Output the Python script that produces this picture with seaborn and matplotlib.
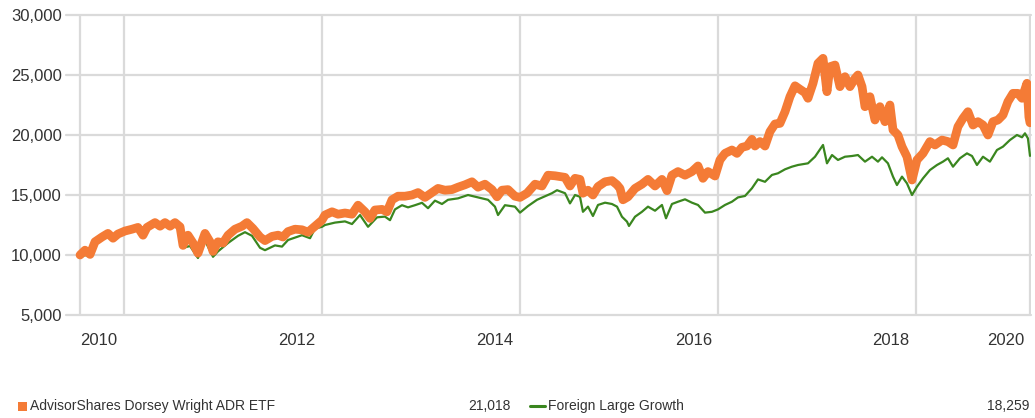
#!/usr/bin/env python3

# Growth of 10,000: AdvisorShares Dorsey Wright ADR ETF vs Foreign Large Growth
import numpy as np
import pandas as pd
import matplotlib
matplotlib.use('Agg')
import matplotlib.pyplot as plt
import matplotlib.transforms as mtransforms
from matplotlib import font_manager
from matplotlib.patches import Rectangle
from matplotlib.lines import Line2D
import seaborn as sns

# Values (x in decimal years)
adr_years = [2010.556, 2010.606, 2010.657, 2010.707, 2010.778, 2010.838, 2010.889, 2010.939,
             2011.010, 2011.081, 2011.141, 2011.192, 2011.232, 2011.313, 2011.364, 2011.414,
             2011.465, 2011.515, 2011.566, 2011.596, 2011.646, 2011.697, 2011.747, 2011.818,
             2011.869, 2011.899, 2011.949, 2012.000, 2012.051, 2012.121, 2012.192, 2012.242,
             2012.303, 2012.374, 2012.424, 2012.495, 2012.556, 2012.606, 2012.657, 2012.727,
             2012.798, 2012.859, 2012.929, 2013.000, 2013.030, 2013.101, 2013.162, 2013.232,
             2013.303, 2013.364, 2013.434, 2013.485, 2013.535, 2013.606, 2013.657, 2013.707,
             2013.768, 2013.838, 2013.909, 2013.970, 2014.040, 2014.111, 2014.172, 2014.242,
             2014.313, 2014.374, 2014.444, 2014.515, 2014.576, 2014.646, 2014.717, 2014.768,
             2014.818, 2014.879, 2014.949, 2015.000, 2015.071, 2015.152, 2015.222, 2015.283,
             2015.354, 2015.455, 2015.505, 2015.556, 2015.606, 2015.636, 2015.687, 2015.737,
             2015.788, 2015.859, 2015.929, 2015.980, 2016.010, 2016.040, 2016.091, 2016.162,
             2016.232, 2016.293, 2016.364, 2016.434, 2016.485, 2016.535, 2016.596, 2016.667,
             2016.737, 2016.798, 2016.848, 2016.899, 2016.970, 2017.020, 2017.071, 2017.141,
             2017.192, 2017.242, 2017.293, 2017.343, 2017.374, 2017.424, 2017.475, 2017.525,
             2017.576, 2017.626, 2017.677, 2017.727, 2017.778, 2017.828, 2017.879, 2017.909,
             2017.960, 2018.010, 2018.061, 2018.101, 2018.131, 2018.182, 2018.232, 2018.283,
             2018.333, 2018.384, 2018.414, 2018.455, 2018.485, 2018.535, 2018.586, 2018.636,
             2018.687, 2018.737, 2018.768, 2018.818, 2018.859, 2018.909, 2018.960, 2019.010,
             2019.071, 2019.141, 2019.192, 2019.263, 2019.323, 2019.374, 2019.424, 2019.475,
             2019.525, 2019.576, 2019.626, 2019.677, 2019.727, 2019.778, 2019.828, 2019.879,
             2019.929, 2019.980, 2020.030, 2020.071, 2020.121, 2020.141, 2020.152]
adr_values = [10000, 10400, 10050, 11100, 11500, 11800, 11400, 11750,
              12000, 12150, 12300, 11650, 12300, 12700, 12400, 12700,
              12400, 12700, 12350, 10800, 11650, 11000, 10150, 11800,
              11100, 10300, 11100, 11000, 11650, 12150, 12400, 12700,
              12200, 11500, 11200, 11550, 11650, 11500, 11950, 12150,
              12100, 11900, 12400, 12900, 13330, 13600, 13400, 13500,
              13400, 14150, 13600, 13050, 13750, 13800, 13600, 14600,
              14900, 14900, 15000, 15200, 14800, 15200, 15550, 15400,
              15450, 15650, 15850, 16100, 15650, 15900, 15450, 14850,
              15400, 15450, 14900, 14800, 15150, 15900, 15750, 16650,
              16600, 16470, 15750, 16390, 16300, 15150, 15400, 15000,
              15700, 16100, 16200, 15850, 15550, 14600, 14850, 15550,
              15900, 16300, 15750, 16300, 15360, 16650, 16950, 16650,
              16950, 17420, 16390, 16950, 16580, 17920, 18470, 18750,
              18470, 18970, 19080, 19640, 19080, 19450, 19080, 20280,
              20920, 20970, 21940, 23190, 24100, 23810, 23530, 23060,
              24310, 25970, 26390, 23610, 25690, 25830, 24030, 24860,
              24030, 24720, 25000, 24030, 22360, 23190, 21250, 22360,
              21110, 22500, 20420, 20000, 19030, 18190, 16250, 17920,
              18470, 19450, 19170, 19580, 19450, 19170, 20690, 21390,
              21940, 20830, 21110, 20830, 20000, 21110, 21250, 21670,
              22780, 23470, 23470, 23060, 24310, 21500, 21018]

flg_years = [2010.556, 2010.657, 2010.707, 2010.778, 2010.838, 2010.889, 2010.939, 2011.010,
             2011.081, 2011.141, 2011.192, 2011.232, 2011.313, 2011.364, 2011.414, 2011.465,
             2011.515, 2011.566, 2011.596, 2011.667, 2011.747, 2011.818, 2011.899, 2011.949,
             2012.051, 2012.152, 2012.222, 2012.293, 2012.374, 2012.424, 2012.525, 2012.596,
             2012.657, 2012.798, 2012.879, 2012.929, 2013.000, 2013.030, 2013.131, 2013.232,
             2013.303, 2013.384, 2013.465, 2013.556, 2013.636, 2013.687, 2013.737, 2013.808,
             2013.869, 2013.939, 2014.010, 2014.071, 2014.141, 2014.212, 2014.273, 2014.374,
             2014.475, 2014.576, 2014.677, 2014.747, 2014.778, 2014.848, 2014.949, 2015.000,
             2015.081, 2015.172, 2015.253, 2015.323, 2015.374, 2015.455, 2015.505, 2015.556,
             2015.606, 2015.636, 2015.687, 2015.737, 2015.788, 2015.859, 2015.929, 2015.980,
             2016.030, 2016.081, 2016.101, 2016.162, 2016.232, 2016.293, 2016.364, 2016.434,
             2016.475, 2016.535, 2016.596, 2016.667, 2016.737, 2016.798, 2016.869, 2016.939,
             2017.000, 2017.071, 2017.141, 2017.202, 2017.273, 2017.343, 2017.404, 2017.475,
             2017.545, 2017.606, 2017.677, 2017.747, 2017.808, 2017.909, 2017.980, 2018.061,
             2018.101, 2018.152, 2018.212, 2018.283, 2018.354, 2018.414, 2018.485, 2018.556,
             2018.616, 2018.657, 2018.717, 2018.768, 2018.808, 2018.859, 2018.909, 2018.960,
             2019.010, 2019.071, 2019.141, 2019.212, 2019.273, 2019.323, 2019.374, 2019.444,
             2019.515, 2019.566, 2019.616, 2019.677, 2019.747, 2019.818, 2019.879, 2019.949,
             2020.020, 2020.071, 2020.101, 2020.131, 2020.152]
flg_values = [9950, 10000, 11000, 11400, 11700, 11300, 11650, 11900,
              12050, 12200, 11550, 12200, 12600, 12300, 12600, 12300,
              12550, 12200, 10600, 10750, 9750, 11200, 9850, 10300,
              11000, 11600, 11900, 11600, 10600, 10400, 10800, 10700,
              11250, 11650, 11400, 12200, 12350, 12500, 12700, 12800,
              12580, 13330, 12350, 13140, 13200, 12900, 13800, 14150,
              13970, 14150, 14350, 13900, 14530, 14250, 14600, 14720,
              15000, 14800, 14600, 14030, 13330, 14150, 14030, 13530,
              14080, 14600, 14900, 15150, 15400, 15150, 14300, 15000,
              14850, 13600, 14030, 13250, 14170, 14360, 14250, 14030,
              13190, 12780, 12420, 13190, 13600, 14030, 13690, 14170,
              13060, 14250, 14440, 14640, 14360, 14170, 13530, 13600,
              13800, 14170, 14440, 14800, 14920, 15560, 16300, 16100,
              16670, 16810, 17140, 17360, 17500, 17640, 18190, 19170,
              17640, 18330, 17920, 18190, 18250, 18330, 17780, 18190,
              17780, 18140, 17640, 16530, 15830, 16530, 15970, 15000,
              15690, 16390, 17080, 17500, 17780, 18060, 17360, 18060,
              18470, 18250, 17500, 18190, 17780, 18750, 19030, 19580,
              20000, 19810, 20140, 19720, 18259]

series_names = ['AdvisorShares Dorsey Wright ADR ETF', 'Foreign Large Growth']
end_values = ['21,018', '18,259']
year_labels = ['', '2010', '2012', '2014', '2016', '2018', '2020']
y_ticks = [5000, 10000, 15000, 20000, 25000, 30000]

ORANGE = '#F47B36'
GREEN = '#3A861F'
GRID = '#DADADA'
TEXT = '#333333'


def to_dates(years):
    # decimal year -> timestamp
    yrs = np.asarray(years, dtype=float)
    return pd.Timestamp('2011-01-01') + pd.to_timedelta((yrs - 2011.0) * 365.25, unit='D')


# Narrow-ish font, set after the seaborn style
names = {f.name for f in font_manager.fontManager.ttflist}
sns.set_style('white')
if 'Liberation Sans Narrow' in names:
    plt.rcParams['font.family'] = ['Liberation Sans Narrow', 'DejaVu Sans']
    LEG_SIZE = 12
else:
    plt.rcParams['font.family'] = ['Liberation Sans', 'DejaVu Sans']
    LEG_SIZE = 10

df_adr = pd.DataFrame({'Date': to_dates(adr_years), 'Value': adr_values})
df_flg = pd.DataFrame({'Date': to_dates(flg_years), 'Value': flg_values})

W, H = 1035, 418
fig = plt.figure(figsize=(W / 100, H / 100), dpi=100)
ax = fig.add_axes([66 / W, 103 / H, 965 / W, 300 / H])

sns.lineplot(data=df_flg, x='Date', y='Value', ax=ax, color=GREEN, linewidth=1.6, zorder=2)
sns.lineplot(data=df_adr, x='Date', y='Value', ax=ax, color=ORANGE, linewidth=6.3,
             solid_capstyle='round', solid_joinstyle='round', zorder=3)

# Axis limits
ax.set_ylim(5000, 30000)
ax.set_xlim(to_dates([2010.414])[0], to_dates([2020.162])[0])
ax.set_xlabel('')
ax.set_ylabel('')
for s in ax.spines.values():
    s.set_visible(False)

# Y axis
ax.set_yticks(y_ticks)
ax.set_yticklabels([f'{v:,}' for v in y_ticks])
ax.tick_params(axis='y', length=0, pad=3, labelsize=12, labelcolor=TEXT)
ax.yaxis.grid(True, color=GRID, linewidth=1.6)
for gl in ax.get_ygridlines():
    gl.set_clip_on(False)

# X axis: start, year ends, end of data
x_ticks = [df_adr['Date'].iloc[0], pd.Timestamp('2010-12-31'), pd.Timestamp('2012-12-31'),
           pd.Timestamp('2014-12-31'), pd.Timestamp('2016-12-31'), pd.Timestamp('2018-12-31'),
           df_adr['Date'].iloc[-1]]
ax.set_xticks(x_ticks)
ax.set_xticklabels(year_labels)
ax.tick_params(axis='x', length=9.5, width=1.5, color=GRID, pad=3.5,
               labelsize=12, labelcolor=TEXT)
ax.xaxis.grid(True, color=GRID, linewidth=1.6)
shift = mtransforms.ScaledTranslation(-6 / 100, 0, fig.dpi_scale_trans)
for lbl in ax.get_xticklabels():
    lbl.set_horizontalalignment('right')
    lbl.set_transform(lbl.get_transform() + shift)
ax.set_axisbelow(True)

# Legend row along the bottom
ly = 12 / H
fig.add_artist(Rectangle((18 / W, (ly * H - 4.5) / H), 9 / W, 9 / H,
                         transform=fig.transFigure, color=ORANGE, lw=0))
fig.text(30 / W, ly, series_names[0], ha='left', va='center', fontsize=LEG_SIZE, color=TEXT)
fig.text(511 / W, ly, end_values[0], ha='right', va='center', fontsize=LEG_SIZE, color=TEXT)
fig.add_artist(Line2D([530 / W, 545 / W], [ly, ly], transform=fig.transFigure,
                      color=GREEN, linewidth=2.2))
fig.text(548 / W, ly, series_names[1], ha='left', va='center', fontsize=LEG_SIZE, color=TEXT)
fig.text(1029 / W, ly, end_values[1], ha='right', va='center', fontsize=LEG_SIZE, color=TEXT)

fig.savefig('out.png', dpi=100)
